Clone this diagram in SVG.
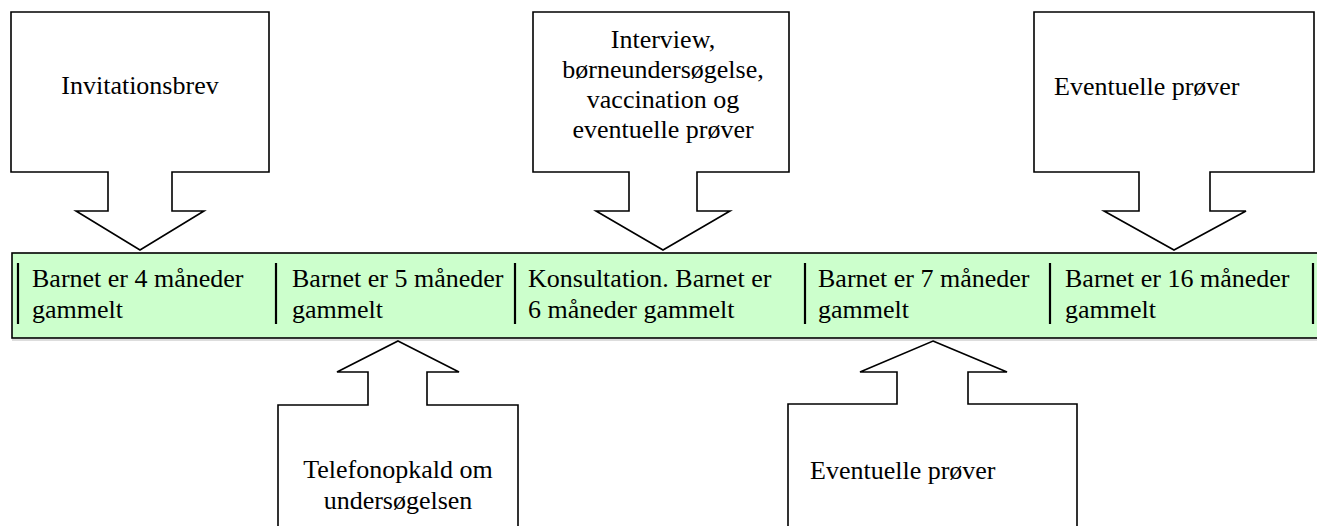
<svg xmlns="http://www.w3.org/2000/svg" width="1317" height="526" viewBox="0 0 1317 526">
<style>
.t{font-family:"Liberation Serif","Times New Roman",serif;font-size:26px;fill:#000}
.m{text-anchor:middle}
.call{fill:#fff;stroke:#000;stroke-width:1.6;stroke-linejoin:miter}
.bar{fill:#ccffcc;stroke:#000;stroke-width:1.6}
.sep{stroke:#000;stroke-width:2.2}
</style>
<rect width="1317" height="526" fill="#fff"/>
<g id="timeline">
<line x1="12" y1="340" x2="1317" y2="340" stroke="#bbbbbb" stroke-width="1.2"/>
<rect class="bar" x="12" y="253" width="1320" height="85"/>
<line class="sep" x1="18" y1="263" x2="18" y2="324"/>
<line class="sep" x1="276" y1="263" x2="276" y2="324"/>
<line class="sep" x1="515" y1="263" x2="515" y2="324"/>
<line class="sep" x1="805" y1="263" x2="805" y2="324"/>
<line class="sep" x1="1050" y1="263" x2="1050" y2="324"/>
<line class="sep" x1="1313" y1="263" x2="1313" y2="324"/>
</g>
<g id="cell1"><text class="t" x="32" y="287">Barnet er 4 måneder</text><text class="t" x="32" y="318">gammelt</text></g>
<g id="cell2"><text class="t" x="292" y="287">Barnet er 5 måneder</text><text class="t" x="292" y="318">gammelt</text></g>
<g id="cell3"><text class="t" x="528" y="287">Konsultation. Barnet er</text><text class="t" x="528" y="318">6 måneder gammelt</text></g>
<g id="cell4"><text class="t" x="818" y="287">Barnet er 7 måneder</text><text class="t" x="818" y="318">gammelt</text></g>
<g id="cell5"><text class="t" x="1065" y="287">Barnet er 16 måneder</text><text class="t" x="1065" y="318">gammelt</text></g>
<g id="callout-invitation">
<polygon class="call" points="11,12 269,12 269,172 172,172 172,211 204,211 140,250 76,211 108,211 108,172 11,172"/>
<text class="t m" x="140" y="94">Invitationsbrev</text>
</g>
<g id="callout-interview">
<polygon class="call" points="533,12 789,12 789,172 697,172 697,211 730,211 663,250 596,211 629,211 629,172 533,172"/>
<text class="t m" x="663" y="48">Interview,</text>
<text class="t m" x="663" y="78">børneundersøgelse,</text>
<text class="t m" x="663" y="108">vaccination og</text>
<text class="t m" x="663" y="138">eventuelle prøver</text>
</g>
<g id="callout-proever16">
<polygon class="call" points="1034,12 1314,12 1314,172 1210,172 1210,211 1246,211 1174,250 1104,211 1139,211 1139,172 1034,172"/>
<text class="t" x="1054" y="95">Eventuelle prøver</text>
</g>
<g id="callout-telefon">
<polygon class="call" points="398,341 459,372 427,372 427,405 518,405 518,530 278,530 278,405 368,405 368,372 337,372"/>
<text class="t m" x="398" y="478">Telefonopkald om</text>
<text class="t m" x="398" y="509">undersøgelsen</text>
</g>
<g id="callout-proever7">
<polygon class="call" points="933,341 1007,372 968,372 968,404 1077,404 1077,530 788,530 788,404 897,404 897,372 860,372"/>
<text class="t" x="810" y="479">Eventuelle prøver</text>
</g>
<g id="connectors"></g>
</svg>
